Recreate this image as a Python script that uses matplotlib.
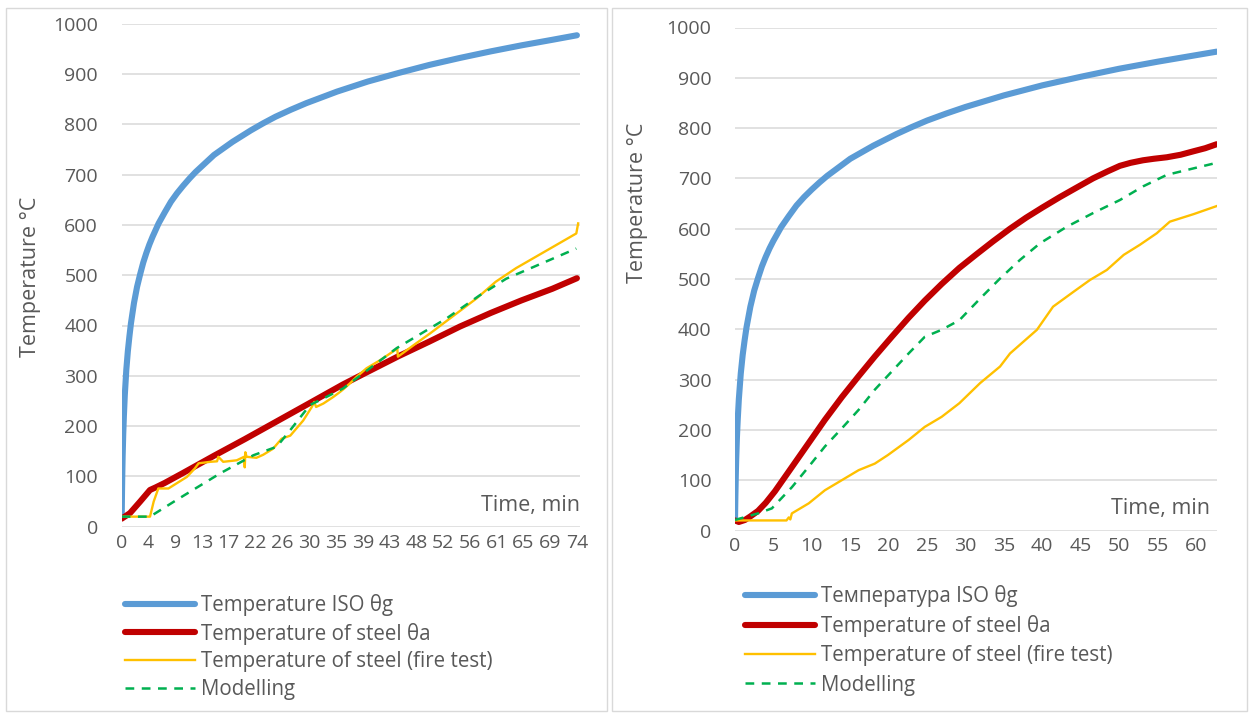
import matplotlib
matplotlib.use("Agg")
import matplotlib.pyplot as plt
from matplotlib.patches import Rectangle

plt.rcParams['font.family'] = ['Open Sans', 'DejaVu Sans']

# ---- left chart ----
iso_t_left = [0, 0.05, 0.1, 0.15, 0.25, 0.35, 0.5, 0.75, 1, 1.25, 1.5, 2, 2.5, 3, 3.5,
              4, 4.5, 5, 6, 7, 8, 9, 10, 11, 12, 13.5, 15, 16.5, 18, 21, 23, 25, 27.5,
              30, 35, 40, 45, 50, 55, 60, 65, 70, 74]
iso_v_left = [20, 69, 108, 139, 185, 219, 261, 312, 349, 378, 404, 445, 477, 502, 525,
              544, 561, 576, 603, 625, 646, 663, 678, 692, 705, 722, 739, 752, 765, 788,
              802, 815, 829, 842, 865, 885, 902, 918, 932, 945, 957, 968, 977]

steel_t_left = [0, 1.35, 3, 4.6, 5.5, 7, 10, 15, 20, 25, 30, 36, 40, 45, 50, 55,
                60, 65, 70, 74]
steel_v_left = [16, 27, 50, 73, 78, 87, 107, 141, 174, 208, 242, 283, 308, 339,
                368, 398, 425, 450, 473, 494]

test_t_left = [0, 4.6, 5.2, 5.95, 7.6, 8.9, 10.6, 11.9, 12.5, 14.4, 15.5, 15.7, 16.5,
               18.7, 19.9, 20.0, 20.1, 20.3, 21.9, 23, 24.6, 26, 27.4, 29.5, 30.9, 31.3,
               31.6, 32.8, 34.4, 35.5, 36.2, 37.1, 38.2, 39.8, 42, 44.8, 44.9, 47.8,
               50.1, 57.7, 60.8, 64.1, 73.9, 74.2]
test_v_left = [20, 20, 50, 76, 76, 86, 99, 116, 126, 129, 130, 139, 129, 132, 139, 118,
               148, 139, 137, 143, 155, 175, 181, 211, 238, 248, 238, 245, 258, 268, 275,
               285, 298, 315, 331, 354, 338, 364, 384, 454, 487, 514, 583, 603]

model_t_left = [0, 4.6, 8.9, 16, 21.4, 25.2, 27.4, 30.6, 32.8, 36, 44.7, 52.8, 58.2,
                62.5, 66.3, 73.9]
model_v_left = [20, 20, 53, 106, 142, 159, 192, 242, 255, 275, 355, 414, 460, 493, 513,
                553]

xlabels_left = ['0', '4', '9', '13', '17', '22', '26', '30', '35', '39', '43', '48',
                '52', '56', '61', '65', '69', '74']

# ---- right chart ----
iso_t_right = [0, 0.05, 0.1, 0.15, 0.25, 0.35, 0.5, 0.75, 1, 1.25, 1.5, 2, 2.5, 3, 3.5,
               4, 4.5, 5, 6, 7, 8, 9, 10, 11, 12, 13.5, 15, 16.5, 18, 21, 23, 25, 27.5,
               30, 35, 40, 45, 50, 55, 60, 62.7]
iso_v_right = [20, 69, 108, 139, 185, 219, 261, 312, 349, 378, 404, 445, 477, 502, 525,
               544, 561, 576, 603, 625, 646, 663, 678, 692, 705, 722, 739, 752, 765, 788,
               802, 815, 829, 842, 865, 885, 902, 918, 932, 945, 952]

steel_t_right = [0, 0.5, 1.3, 2, 3.0, 4, 5.2, 6.3, 7.4, 9.55, 11.7, 13.9, 16.1, 18.2,
                 20.4, 22.6, 24.7, 26.9, 29.2, 31.5, 33.6, 35.8, 37.9, 40, 42.3, 44.5,
                 46.6, 48.5, 50.1, 51.5, 53.1, 54.5, 56.2, 58, 59.7, 61.2, 62.7]
steel_v_right = [20, 17, 21, 28, 39, 55, 78, 102, 126, 173, 220, 265, 307, 346, 385,
                 423, 457, 490, 522, 550, 575, 600, 622, 642, 663, 682, 700, 714, 725,
                 731, 736, 739, 742, 747, 754, 760, 768]

test_t_right = [0, 6.7, 7.0, 7.2, 7.4, 9.6, 11.7, 13.9, 16.1, 18.2, 19.9, 22.6, 24.7,
                26.9, 29.2, 31.9, 34.5, 35.8, 39.3, 41.4, 44.1, 46.2, 48.4, 50.6, 52.7,
                54.9, 56.6, 59.7, 62.7]
test_v_right = [20, 20, 26, 22, 34, 54, 80, 100, 120, 133, 150, 180, 206, 226, 253, 293,
                326, 352, 399, 445, 475, 498, 518, 548, 568, 591, 614, 629, 645]

model_t_right = [0, 3.0, 4.8, 7.4, 9.6, 11.7, 13.9, 16.1, 18.2, 20.4, 22.6, 24.7, 26.9,
                 29.2, 31.9, 34.5, 37.1, 39.7, 43.2, 46.6, 50.1, 53.1, 56.2, 59.7, 62.7]
model_v_right = [21, 34, 44, 86, 127, 167, 203, 240, 280, 316, 352, 385, 399, 418, 461,
                 501, 538, 571, 604, 631, 657, 684, 707, 720, 731]

xticks_right = [0, 5, 10, 15, 20, 25, 30, 35, 40, 45, 50, 55, 60]

labels_left = ['Temperature ISO θg', 'Temperature of steel θa',
               'Temperature of steel (fire test)', 'Modelling']
labels_right = ['Температура ISO θg', 'Temperature of steel θa',
                'Temperature of steel (fire test)', 'Modelling']

BLUE = '#5B9BD5'
RED = '#C00000'
YELLOW = '#FFC000'
GREEN = '#00B050'
GRID = '#D9D9D9'
TXT = '#595959'

W, H = 1249, 715
fig = plt.figure(figsize=(W / 100, H / 100), dpi=100)

# panel frames
for x0, x1 in [(6, 607), (612, 1247)]:
    fig.add_artist(Rectangle((x0 / W, 1 - 711 / H), (x1 - x0) / W, (711 - 8) / H,
                             transform=fig.transFigure, fill=False,
                             edgecolor=GRID, lw=1.0))

ax1 = fig.add_axes([121.7 / W, 1 - 526.7 / H, (580 - 121.7) / W, 503 / H])
ax2 = fig.add_axes([735 / W, 1 - 530.5 / H, (1216.7 - 735) / W, 503 / H])


def draw(ax, iso, steel, test, model):
    h1, = ax.plot(*iso, color=BLUE, lw=4.4, solid_capstyle='round',
                  solid_joinstyle='round')
    h2, = ax.plot(*steel, color=RED, lw=4.4, solid_capstyle='round',
                  solid_joinstyle='round')
    h3, = ax.plot(*test, color=YELLOW, lw=1.7)
    h4, = ax.plot(*model, color=GREEN, lw=1.8, dashes=(3.5, 3))
    ax.set_ylim(0, 1000)
    ax.set_yticks(range(0, 1001, 100))
    ax.grid(axis='y', color=GRID, lw=1.1)
    ax.set_axisbelow(True)
    for s in ax.spines.values():
        s.set_visible(False)
    ax.tick_params(axis='y', length=0, pad=17, labelsize=14, labelcolor=TXT)
    ax.tick_params(axis='x', length=0, pad=5, labelsize=14, labelcolor=TXT)
    return [h1, h2, h3, h4]


hl = draw(ax1, (iso_t_left, iso_v_left), (steel_t_left, steel_v_left),
          (test_t_left, test_v_left), (model_t_left, model_v_left))
ax1.set_xlim(0, 74.5)
ax1.set_xticks([i * 74 / 17 for i in range(18)])
ax1.set_xticklabels(xlabels_left)

hr = draw(ax2, (iso_t_right, iso_v_right), (steel_t_right, steel_v_right),
          (test_t_right, test_v_right), (model_t_right, model_v_right))
ax2.set_xlim(0, 62.7)
ax2.set_xticks(xticks_right)

ax1.text(1.0, 0.042, 'Time, min', transform=ax1.transAxes, ha='right', va='center',
         fontsize=15.5, color=TXT)
ax2.text(0.986, 0.043, 'Time, min', transform=ax2.transAxes, ha='right', va='center',
         fontsize=15.5, color=TXT)

fig.text(31 / W, 1 - 277 / H, 'Temperature °C', rotation=90, ha='center', va='center',
         fontsize=15.5, color=TXT)
fig.text(637 / W, 1 - 203 / H, 'Temperature °C', rotation=90, ha='center', va='center',
         fontsize=15.5, color=TXT)

for ax, handles, labels, x, y, sp in [(ax1, hl, labels_left, 125, 594, 0.32),
                                      (ax2, hr, labels_right, 745, 585, 0.4)]:
    leg = ax.legend(handles, labels, loc='upper left',
                    bbox_to_anchor=(x / W, 1 - y / H), bbox_transform=fig.transFigure,
                    frameon=False, fontsize=14.8, borderpad=0, borderaxespad=0,
                    handlelength=3.4, handletextpad=0.3, labelspacing=sp)
    for t in leg.get_texts():
        t.set_color(TXT)

fig.savefig('out.png', dpi=100)
